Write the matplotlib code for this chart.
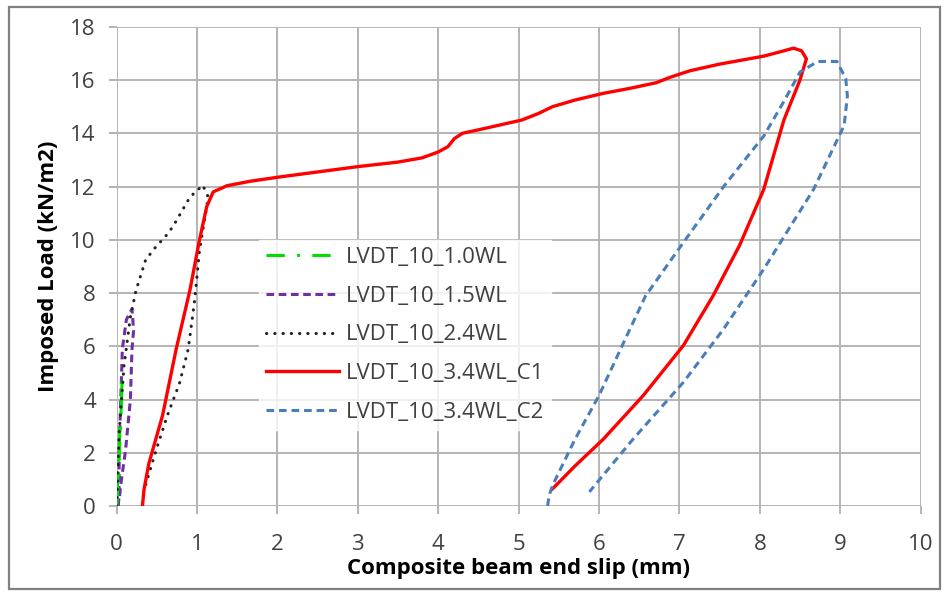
import matplotlib
matplotlib.use("Agg")
import matplotlib.pyplot as plt
from matplotlib.patches import Rectangle

# slip (mm) vs imposed load (kN/m2)
wl10_x = [0.0, 0.01, 0.02, 0.04, 0.06, 0.07, 0.06, 0.04, 0.03, 0.01, 0.0]
wl10_y = [0.0, 0.5, 1.0, 2.5, 4.0, 4.9, 4.2, 3.0, 2.0, 0.8, 0.0]

wl15_x = [0.02, 0.03, 0.03, 0.05, 0.07, 0.12, 0.19, 0.21, 0.19, 0.17, 0.11, 0.05, 0.03]
wl15_y = [0.0, 0.5, 2.1, 4.0, 5.9, 7.0, 7.4, 6.6, 5.9, 4.0, 2.1, 0.8, 0.2]

wl24_x = [0.0, 0.03, 0.09, 0.17, 0.24, 0.36, 0.49, 0.6, 0.7, 0.91, 1.07,
          1.14, 1.1, 1.03, 0.97, 0.89, 0.78, 0.63, 0.49, 0.4, 0.34]
wl24_y = [0.0, 2.75, 5.25, 7.1, 8.1, 9.25, 9.75, 10.1, 10.5, 11.6, 12.05,
          11.6, 10.9, 9.6, 7.75, 5.9, 4.6, 3.4, 2.1, 1.2, 0.6]

c1_x = [0.32, 0.34, 0.4, 0.57, 0.74, 0.91, 1.03, 1.12, 1.2, 1.37, 1.66, 2.0, 2.5,
        3.0, 3.5, 3.8, 4.0, 4.12, 4.2, 4.3, 4.6, 5.04, 5.25, 5.42, 5.7, 6.05, 6.4,
        6.71, 6.88, 7.13, 7.5, 8.05, 8.3, 8.42, 8.52, 8.58, 8.5, 8.3, 8.05, 7.75,
        7.42, 7.05, 6.55, 6.05, 5.7, 5.42]
c1_y = [0.0, 0.63, 1.6, 3.4, 5.9, 8.1, 10.0, 11.25, 11.8, 12.03, 12.2, 12.35, 12.55,
        12.75, 12.92, 13.08, 13.3, 13.5, 13.8, 14.0, 14.2, 14.5, 14.75, 15.0, 15.25,
        15.5, 15.7, 15.9, 16.1, 16.35, 16.6, 16.9, 17.1, 17.2, 17.1, 16.8, 16.0,
        14.5, 11.9, 9.8, 7.9, 6.03, 4.15, 2.5, 1.5, 0.64]

c2_x = [5.36, 5.38, 5.42, 5.7, 6.0, 6.3, 6.58, 7.05, 7.55, 8.05, 8.3, 8.5, 8.72,
        8.96, 9.07, 9.09, 9.05, 8.67, 8.05, 7.55, 7.05, 6.42, 5.88]
c2_y = [0.0, 0.4, 0.76, 2.5, 4.15, 6.1, 7.9, 9.9, 12.0, 13.9, 15.2, 16.3, 16.7,
        16.7, 16.05, 15.4, 14.3, 11.9, 8.9, 6.65, 4.65, 2.5, 0.53]

labels = ["LVDT_10_1.0WL", "LVDT_10_1.5WL", "LVDT_10_2.4WL",
          "LVDT_10_3.4WL_C1", "LVDT_10_3.4WL_C2"]

plt.rcParams['font.family'] = ['Open Sans', 'DejaVu Sans']

fig = plt.figure(figsize=(9.49, 5.93), dpi=100)
ax = fig.add_axes([0.123, 0.1467, 0.847, 0.808])

ax.plot(wl15_x, wl15_y, color="#7030a0", lw=2.2, dashes=(2.5, 1.5), label=labels[1])
ax.plot(wl10_x, wl10_y, color="#00e000", lw=2.2, dashes=(6, 4, 1, 4), label=labels[0])
ax.plot(wl24_x, wl24_y, color="#222222", lw=2.2, dashes=(0.1, 2.6),
        dash_capstyle="round", label=labels[2])
ax.plot(c1_x, c1_y, color="#ff0000", lw=2.4, label=labels[3])
ax.plot(c2_x, c2_y, color="#4a7ebb", lw=2.2, dashes=(2.5, 1.6), label=labels[4])

ax.set_xlim(0, 10)
ax.set_ylim(0, 18)
ax.set_xticks(range(0, 11))
ax.set_yticks(range(0, 19, 2))
ax.grid(True, color="#b4b4b4", lw=1.4)
ax.set_axisbelow(True)
for s in ax.spines.values():
    s.set_visible(False)
ax.tick_params(axis="both", color="#b4b4b4", width=1.4, length=6,
               labelsize=16, labelcolor="#404040")
ax.tick_params(axis="x", pad=14)
ax.tick_params(axis="y", pad=9)

ax.set_xlabel("Composite beam end slip (mm)", fontsize=16, fontweight="bold", labelpad=2)
ax.set_ylabel("Imposed Load (kN/m2)", fontsize=16, fontweight="bold", labelpad=8)

# legend order as in the original chart
handles, names = ax.get_legend_handles_labels()
order = [names.index(n) for n in labels]
leg = ax.legend([handles[i] for i in order], [names[i] for i in order],
                loc="upper left", bbox_to_anchor=(0.163, 0.578), frameon=True,
                fontsize=16, handlelength=3.3, labelspacing=0.8, borderpad=0.3,
                handletextpad=0.3, fancybox=False)
leg.get_frame().set_facecolor("white")
leg.get_frame().set_edgecolor("white")
for t in leg.get_texts():
    t.set_color("#404040")

fig.patches.append(Rectangle((0.0095, 0.006), 0.981, 0.982, transform=fig.transFigure,
                             fill=False, edgecolor="#808080", lw=1.6))

fig.savefig("out.png", dpi=100)
